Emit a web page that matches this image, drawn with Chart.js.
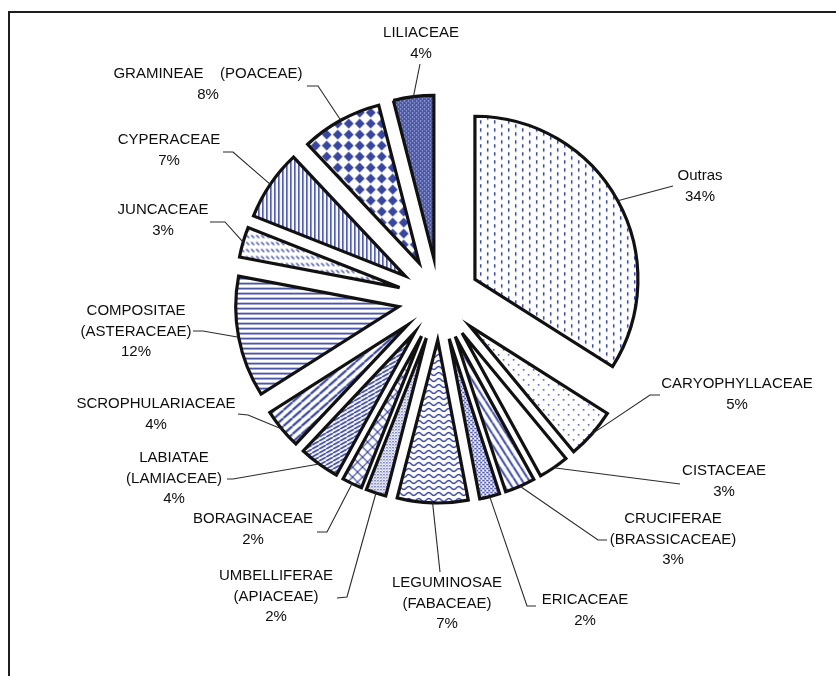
<!DOCTYPE html>
<html>
<head>
<meta charset="utf-8">
<script src="https://cdn.jsdelivr.net/npm/chart.js@4.4.1/dist/chart.umd.min.js"></script>
<style>
    html, body { margin: 0; padding: 0; background: #fff; }
    #wrap { position: relative; width: 836px; height: 676px; overflow: hidden; }
    #frame {
        position: absolute; left: 8px; top: 11px; width: 900px; height: 700px;
        border-left: 2px solid #1e1e1e; border-top: 2px solid #1e1e1e;
    }
    canvas { position: absolute; left: 0; top: 0; }
</style>
</head>
<body>
<div id="wrap">
    <div id="frame"></div>
    <canvas id="pieChart" width="836" height="676"></canvas>
</div>
<script>
// data, clockwise from 12 o'clock
const categories = [
    ['Outras'],
    ['CARYOPHYLLACEAE'],
    ['CISTACEAE'],
    ['CRUCIFERAE', '(BRASSICACEAE)'],
    ['ERICACEAE'],
    ['LEGUMINOSAE', '(FABACEAE)'],
    ['UMBELLIFERAE', '(APIACEAE)'],
    ['BORAGINACEAE'],
    ['LABIATAE', '(LAMIACEAE)'],
    ['SCROPHULARIACEAE'],
    ['COMPOSITAE', '(ASTERACEAE)'],
    ['JUNCACEAE'],
    ['CYPERACEAE'],
    ['GRAMINEAE    (POACEAE)'],
    ['LILIACEAE']
];
const percentages = [34, 5, 3, 3, 2, 7, 2, 2, 4, 4, 12, 3, 7, 8, 4];

// label layout (text centre of first line) and leader line bends
const labelAnchors = [
    [700, 176], [737, 384], [724, 471], [673, 519], [585, 600],
    [447, 583], [276, 576], [253, 519], [174, 458], [156, 404],
    [136, 311], [163, 210], [169, 140], [208, 74], [421, 33]
];
const leaderPoints = [
    [[673, 186]],
    [[650, 395], [660, 395]],
    [[680, 484]],
    [[598, 540], [607, 540]],
    [[527, 606], [536, 606]],
    [[440, 572]],
    [[347, 597], [337, 598]],
    [[327, 532], [317, 532]],
    [[233, 479], [227, 479]],
    [[248, 415], [238, 414]],
    [[203, 331], [193, 331]],
    [[225, 222], [210, 222]],
    [[233, 152], [223, 152]],
    [[318, 86], [307, 86]],
    [[420, 64]]
];

const BLUE = '#3946a0';
const EXPLODE = 41;
const LINE_H = 20.5;

function makePattern(w, h, paint) {
    const c = document.createElement('canvas');
    c.width = w;
    c.height = h;
    const g = c.getContext('2d');
    g.fillStyle = '#fff';
    g.fillRect(0, 0, w, h);
    g.fillStyle = BLUE;
    g.strokeStyle = BLUE;
    paint(g, w, h);
    return g.createPattern(c, 'repeat');
}

// diagonal stripes across a tile, dir 1 = "\" , -1 = "/"
function stripes(g, w, h, lw, dir) {
    g.lineWidth = lw;
    g.beginPath();
    for (let k = -1; k <= 1; k++) {
        if (dir > 0) { g.moveTo(k * w, 0); g.lineTo(k * w + w, h); }
        else { g.moveTo(k * w, h); g.lineTo(k * w + w, 0); }
    }
    g.stroke();
}

const fills = [
    makePattern(14, 8, g => { g.fillRect(3, 0, 1.5, 3.5); g.fillRect(10, 4, 1.5, 3.5); }),
    makePattern(10, 10, g => { g.fillRect(2, 2, 1.5, 1.5); g.fillRect(7, 7, 1.5, 1.5); }),
    '#ffffff',
    makePattern(7, 11, (g, w, h) => stripes(g, w, h, 2, 1)),
    makePattern(4, 4, g => { g.fillRect(0, 0, 2.5, 1.5); g.fillRect(2, 2, 2.5, 1.5); }),
    makePattern(10, 6, g => {
        g.lineWidth = 1.4;
        g.beginPath();
        g.moveTo(0, 1.5);
        g.bezierCurveTo(2.5, 1.5, 2.5, 4.5, 5, 4.5);
        g.bezierCurveTo(7.5, 4.5, 7.5, 1.5, 10, 1.5);
        g.stroke();
    }),
    makePattern(3, 3, g => { g.fillRect(0, 0, 1.3, 1.3); g.fillRect(1.5, 1.5, 1, 1); }),
    makePattern(10, 10, (g, w, h) => { stripes(g, w, h, 1.2, 1); stripes(g, w, h, 1.2, -1); }),
    makePattern(7, 4, (g, w, h) => stripes(g, w, h, 1.7, -1)),
    makePattern(9, 8, (g, w, h) => stripes(g, w, h, 2.2, -1)),
    makePattern(4, 5, g => g.fillRect(0, 0, 4, 1.7)),
    makePattern(5, 7, g => {
        g.lineWidth = 1.3;
        g.beginPath();
        g.moveTo(0.5, 1.5);
        g.lineTo(3.5, 4.5);
        g.stroke();
    }),
    makePattern(4, 4, g => g.fillRect(0, 0, 1.5, 4)),
    makePattern(11, 11, g => {
        g.beginPath();
        g.moveTo(5.5, 0.6); g.lineTo(10.4, 5.5); g.lineTo(5.5, 10.4); g.lineTo(0.6, 5.5);
        g.closePath();
        g.fill();
    }),
    makePattern(4, 4, g => {
        g.fillStyle = '#4a57a8';
        g.fillRect(0, 0, 4, 4);
        g.fillStyle = '#c8cdea';
        g.fillRect(1, 1, 1.2, 1.2);
        g.fillRect(3, 3, 1, 1);
    })
];

// draw each slice pulled out from the centre by the same distance
const explodePlugin = {
    id: 'explode',
    beforeDatasetDraw(chart, args) {
        const ctx = chart.ctx;
        args.meta.data.forEach(arc => {
            const mid = (arc.startAngle + arc.endAngle) / 2;
            ctx.save();
            ctx.translate(Math.cos(mid) * EXPLODE, Math.sin(mid) * EXPLODE);
            arc.draw(ctx);
            ctx.restore();
        });
        return false;
    }
};

const labelPlugin = {
    id: 'leaderLabels',
    afterDatasetsDraw(chart) {
        const ctx = chart.ctx;
        const arcs = chart.getDatasetMeta(0).data;
        ctx.save();
        ctx.font = '15px "Liberation Sans", Arial, sans-serif';
        ctx.fillStyle = '#0e0e0e';
        ctx.textAlign = 'center';
        ctx.textBaseline = 'middle';
        arcs.forEach((arc, i) => {
            const mid = (arc.startAngle + arc.endAngle) / 2;
            const r = EXPLODE + arc.outerRadius;
            ctx.strokeStyle = '#2a2a2a';
            ctx.lineWidth = 1.1;
            ctx.beginPath();
            ctx.moveTo(arc.x + Math.cos(mid) * r, arc.y + Math.sin(mid) * r);
            leaderPoints[i].forEach(p => ctx.lineTo(p[0], p[1]));
            ctx.stroke();
            const lines = categories[i].concat(percentages[i] + '%');
            const [tx, ty] = labelAnchors[i];
            lines.forEach((t, k) => ctx.fillText(t, tx, ty + k * LINE_H));
        });
        ctx.restore();
    }
};

const canv = document.getElementById('pieChart').getContext('2d');
const chart = new Chart(canv, {
    type: 'pie',
    data: {
        labels: categories.map(c => c.join(' ')),
        datasets: [{
            data: percentages,
            backgroundColor: fills,
            borderColor: '#111',
            borderWidth: 3.2,
            borderJoinStyle: 'miter'
        }]
    },
    options: {
        responsive: false,
        animation: false,
        events: [],
        radius: 163,
        layout: {
            padding: { left: 42, right: 0, top: 0, bottom: 78 }
        },
        plugins: {
            legend: { display: false },
            tooltip: { enabled: false }
        }
    },
    plugins: [explodePlugin, labelPlugin]
});
</script>
</body>
</html>
